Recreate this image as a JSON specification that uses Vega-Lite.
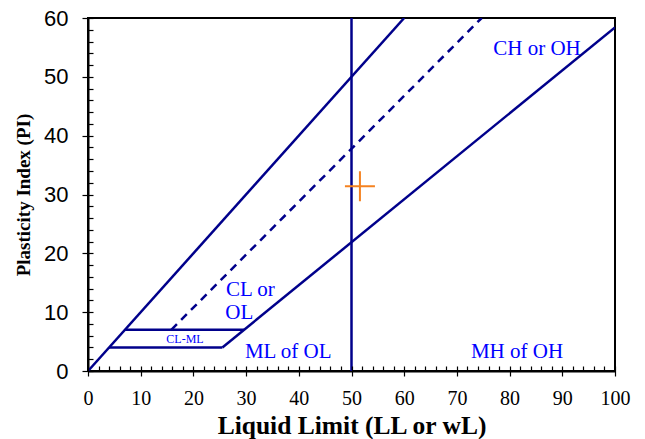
{
  "$schema": "https://vega.github.io/schema/vega-lite/v6.json",
  "width": 527,
  "height": 353,
  "autosize": {"type": "none"},
  "padding": {"left": 88, "top": 18, "right": 30, "bottom": 68},
  "background": "white",
  "config": {
    "view": {"stroke": "black", "strokeWidth": 2},
    "axis": {"grid": false, "domainColor": "black", "domainWidth": 2, "tickColor": "black", "tickWidth": 1.2, "labelColor": "black", "titleColor": "black"}
  },
  "datasets": {
    "lines": [
      {"name": "upper", "LL": 0, "PI": 0},
      {"name": "upper", "LL": 60, "PI": 60},
      {"name": "aline", "LL": 25.5, "PI": 4},
      {"name": "aline", "LL": 100, "PI": 58.4},
      {"name": "h7", "LL": 7, "PI": 7},
      {"name": "h7", "LL": 29.6, "PI": 7},
      {"name": "h4", "LL": 4, "PI": 4},
      {"name": "h4", "LL": 25.5, "PI": 4},
      {"name": "vert", "LL": 50, "PI": 0},
      {"name": "vert", "LL": 50, "PI": 60}
    ],
    "uline": [
      {"name": "uline", "LL": 15.8, "PI": 7},
      {"name": "uline", "LL": 74.7, "PI": 60}
    ],
    "labels": [
      {"text": "CH or OH", "LL": 85.2, "PI": 54.7},
      {"text": "CL or", "LL": 30.8, "PI": 13.8},
      {"text": "OL", "LL": 28.7, "PI": 9.9},
      {"text": "ML of OL", "LL": 38, "PI": 3.2},
      {"text": "MH of OH", "LL": 81.4, "PI": 3.2}
    ],
    "small": [
      {"text": "CL-ML", "LL": 18.4, "PI": 5.4}
    ],
    "point": [
      {"LL": 51.6, "PI": 31.4}
    ]
  },
  "resolve": {
    "scale": {"x": "independent", "y": "independent"},
    "axis": {"x": "independent", "y": "independent"}
  },
  "layer": [
    {
      "data": {"name": "uline"},
      "mark": {"type": "line", "color": "#00008B", "strokeWidth": 2.5, "strokeDash": [8, 6], "clip": true},
      "encoding": {
        "x": {
          "field": "LL", "type": "quantitative",
          "scale": {"domain": [0, 100], "nice": false, "zero": false},
          "axis": {
            "orient": "bottom",
            "values": [0,2,4,6,8,10,12,14,16,18,20,22,24,26,28,30,32,34,36,38,40,42,44,46,48,50,52,54,56,58,60,62,64,66,68,70,72,74,76,78,80,82,84,86,88,90,92,94,96,98,100],
            "ticks": true,
            "tickSize": -5,
            "tickColor": "black",
            "tickWidth": 1.2,
            "zindex": 1,
            "labels": false,
            "domain": false,
            "title": ""
          }
        },
        "y": {
          "field": "PI", "type": "quantitative",
          "scale": {"domain": [0, 60], "nice": false, "zero": false},
          "axis": {
            "orient": "left",
            "values": [0,2,4,6,8,10,12,14,16,18,20,22,24,26,28,30,32,34,36,38,40,42,44,46,48,50,52,54,56,58,60],
            "ticks": true,
            "tickSize": -5,
            "tickColor": "black",
            "tickWidth": 1.2,
            "zindex": 1,
            "labels": false,
            "domain": false,
            "title": ""
          }
        }
      }
    },
    {
      "data": {"name": "lines"},
      "mark": {"type": "line", "color": "#00008B", "strokeWidth": 2.5, "clip": true},
      "encoding": {
        "x": {
          "field": "LL", "type": "quantitative",
          "scale": {"domain": [0, 100], "nice": false, "zero": false},
          "axis": {
            "orient": "bottom",
            "values": [0,10,20,30,40,50,60,70,80,90,100],
            "tickSize": 5,
            "labelOverlap": false,
            "labelFlush": false,
            "labelPadding": 12,
            "labelFont": "Liberation Serif",
            "labelFontSize": 20,
            "title": "Liquid Limit (LL or wL)",
            "titleFont": "Liberation Serif",
            "titleFontSize": 25.5,
            "titleFontWeight": "bold",
            "titlePadding": 5
          }
        },
        "y": {
          "field": "PI", "type": "quantitative",
          "scale": {"domain": [0, 60], "nice": false, "zero": false},
          "axis": {
            "orient": "left",
            "values": [0,10,20,30,40,50,60],
            "tickSize": 6,
            "labelOverlap": false,
            "labelFlush": false,
            "labelPadding": 14,
            "labelFont": "Liberation Sans",
            "labelFontSize": 22,
            "title": "Plasticity Index (PI)",
            "titleFont": "Liberation Serif",
            "titleFontSize": 19,
            "titleFontWeight": "bold",
            "titlePadding": 10
          }
        },
        "detail": {"field": "name", "type": "nominal"}
      }
    },
    {
      "data": {"name": "labels"},
      "mark": {"type": "text", "color": "#0000FF", "font": "Liberation Serif", "fontSize": 21, "baseline": "middle", "align": "center"},
      "encoding": {
        "x": {"field": "LL", "type": "quantitative", "scale": {"domain": [0, 100], "nice": false, "zero": false}, "axis": null},
        "y": {"field": "PI", "type": "quantitative", "scale": {"domain": [0, 60], "nice": false, "zero": false}, "axis": null},
        "text": {"field": "text"}
      }
    },
    {
      "data": {"name": "small"},
      "mark": {"type": "text", "color": "#0000FF", "font": "Liberation Serif", "fontSize": 12, "baseline": "middle", "align": "center"},
      "encoding": {
        "x": {"field": "LL", "type": "quantitative", "scale": {"domain": [0, 100], "nice": false, "zero": false}, "axis": null},
        "y": {"field": "PI", "type": "quantitative", "scale": {"domain": [0, 60], "nice": false, "zero": false}, "axis": null},
        "text": {"field": "text"}
      }
    },
    {
      "data": {"name": "point"},
      "mark": {"type": "point", "shape": "M-1,0H1M0,-1V1", "size": 900, "stroke": "#F58220", "strokeWidth": 2, "filled": false, "opacity": 1},
      "encoding": {
        "x": {"field": "LL", "type": "quantitative", "scale": {"domain": [0, 100], "nice": false, "zero": false}, "axis": null},
        "y": {"field": "PI", "type": "quantitative", "scale": {"domain": [0, 60], "nice": false, "zero": false}, "axis": null}
      }
    }
  ]
}
